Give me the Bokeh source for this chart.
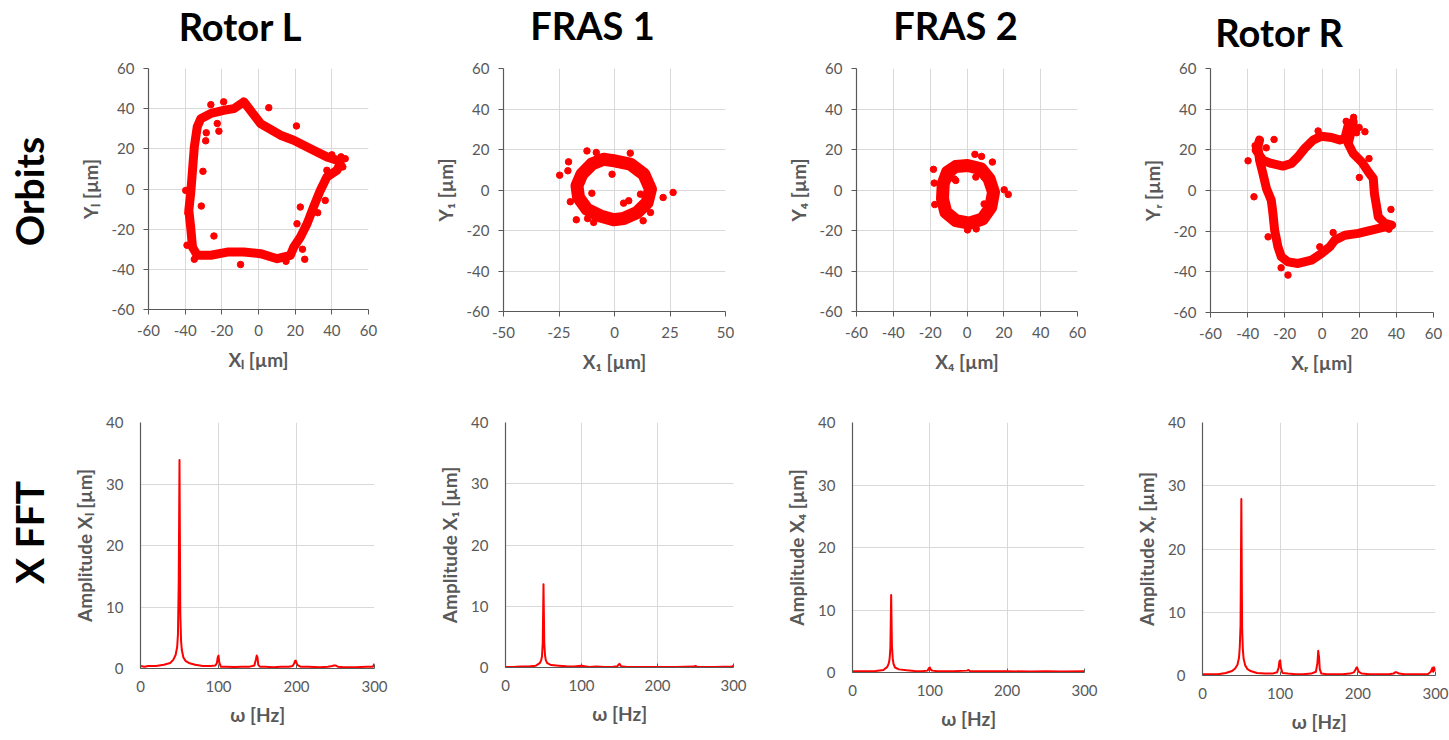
import math
from bokeh.plotting import figure
from bokeh.layouts import row, column
from bokeh.models import FixedTicker, Range1d, PrintfTickFormatter
from bokeh.core.properties import value
from bokeh.embed import file_html
from bokeh.resources import INLINE

# ---------------- DATA ----------------
panel_titles = ["Rotor L", "FRAS 1", "FRAS 2", "Rotor R"]
row_labels = ["Orbits", "X FFT"]
orbit_xlabels = ["Xₗ [µm]", "X₁ [µm]", "X₄ [µm]", "Xᵣ [µm]"]
orbit_ylabels = ["Yₗ [µm]", "Y₁ [µm]", "Y₄ [µm]", "Yᵣ [µm]"]
fft_ylabels = ["Amplitude Xₗ [µm]", "Amplitude X₁ [µm]", "Amplitude X₄ [µm]", "Amplitude Xᵣ [µm]"]
fft_xlabel = "ω [Hz]"
orbit_ticks_60 = [-60, -40, -20, 0, 20, 40, 60]
orbit_ticks_50 = [-50, -25, 0, 25, 50]
fft_xticks = [0, 100, 200, 300]
fft_yticks = [0, 10, 20, 30, 40]

# Rotor L orbit (trace points and scattered outliers)
rotor_l_x = [-8, 1.1, 12, 19.2, 30, 37.3, 42.8, 44.6, 42.8, 37.3, 33.7, 30, 26.5, 22.8, 19.2, 17.4,
             10.2, 1.1, -8, -17, -26, -33.4, -36, -37, -38, -37, -36, -35, -33.4, -31.5, -26, -19, -13.4]
rotor_l_y = [43.4, 32.6, 26.8, 24.3, 19.3, 16, 14.3, 12.6, 9.3, 6, -0.7, -9, -17.3, -24, -29, -33,
             -34.7, -32.2, -31.4, -31.4, -33, -33, -29, -19, -10.6, -2.3, 9.3, 21, 31, 35, 37.6, 39.2, 40]
rotor_l_out_x = [-26, -19, 5.6, 20.7, -22.5, -21.6, -28.5, -28.8, -30.3, -31.2, -39.7, -24.3, -9.8, 25.2,
                 22.8, 21, 36.4, 32.3, 37.3, 47.3, -39, -38.5, -35, 46, 45, 15, -30, 24, 40]
rotor_l_out_y = [42, 43.4, 40.5, 31.4, 32.6, 28.8, 28, 24, 8.8, -8.5, -0.7, -23.4, -37.6, -35,
                 -9, -17.3, -5.7, -11.8, 9.3, 15.1, -28, -12, -35, 11, 16, -36, 36, -30, 17]

# FRAS 1 orbit
fras1_x = [0, 7.1, 13.2, 16.2, 14.7, 10.2, 4.1, -0.4, -6.4, -12.4, -16.2, -16.9, -14.7, -10.2, -4.9]
fras1_y = [14.4, 12.8, 7.8, 0.4, -6.2, -11.1, -14.1, -14.7, -12.8, -9.5, -3.7, 2.1, 7.8, 12.8, 15.2]
fras1_out_x = [-24.7, -20.7, -21, -12.4, -8.2, 7.1, -19.9, -17.2, -12.1, -9.4, 12.9, 21.9, 26.4, 16.2,
               -10.2, -1.1, 4.1, 6.4, 11.7]
fras1_out_y = [7.3, 13.9, 9.5, 19.3, 18.5, 18.2, -5.8, -14.7, -14.1, -16, -15.2, -3.7, -1.2, -11.1,
               -1.6, 7.8, -6.5, -5.3, -2.1]

# FRAS 2 orbit
fras2_x = [0.3, 7.5, 12, 14.4, 12.9, 8.4, 1.2, -6.1, -11.5, -13.3, -12.9, -10.6, -6.1]
fras2_y = [12.1, 10.5, 5.5, -1.1, -8.5, -14.3, -16.4, -15.1, -11, -4.4, 3.1, 8.8, 11.6]
fras2_out_x = [-18.2, -17.8, -17.5, 4.3, 7.9, 13.8, 20.2, 22.4, 9.3, 4.8, -7, 9.3, 0.3, 5, -6.1]
fras2_out_y = [10.2, 3.4, -7.2, 17.6, 16.6, 13.8, 0.1, -2.2, 6.4, 6.4, 5.5, -6.9, -19.7, -19.2, 4.7]

# Rotor R orbit
rotor_r_x = [-35.4, -31.8, -27.3, -21, -16.5, -12.9, -9.3, -4.8, -0.3, 5.1, 9.6, 12.3, 14.1, 16.8, 15.9,
             14.1, 16.8, 21.3, 24.9, 27.6, 28.2, 29.4, 30.3, 33.9, 37.5, 33.9, 26.7, 19.5, 12.3, 6.9,
             4.2, -0.3, -5.7, -12.9, -18.3, -21.9, -23.7, -25.5, -26.4, -27.3, -29.9, -31.8, -33.6,
             -34.5, -33.6]
rotor_r_y = [19.8, 14.9, 13.3, 12, 13.3, 16.6, 20.7, 24.8, 26.7, 26.1, 24.8, 25.6, 32.1, 33.8, 29.7,
             23.1, 18.2, 14.1, 9.2, 5.9, -1.5, -8, -13, -16.2, -17, -17.9, -19.5, -21.1, -22, -24.4,
             -27.7, -31, -34.3, -35.9, -35.1, -32.6, -27.7, -19.5, -11.3, -4.8, 1, 8.4, 14.9,
             21.5, 24.8]
rotor_r_out_x = [-39.8, -36.6, -29, -25.8, -2.1, 23.1, 25.3, 20.1, 37.1, 6, -1.2, -18.3, 18.6,
                 -36, -30, 17, 13, 20, 36, -22]
rotor_r_out_y = [14.6, -3.1, -22.8, 25.1, 29.3, 28.9, 15.7, 6.4, -9.3, -20.7, -27.7, -41.6, 28.4,
                 22, 21, 36, 34, 31, -19, -38]

# FFT spectra
fft_l_f = [0, 5, 10, 20, 30, 38, 42, 45, 47, 48, 49, 50, 51, 52, 53, 55, 58, 62, 70, 80, 90, 96, 98, 99,
           100, 101, 103, 110, 120, 130, 140, 146, 148, 149, 150, 151, 153, 160, 170, 180, 190, 195, 197,
           198, 199, 201, 205, 215, 230, 240, 246, 248, 250, 253, 260, 275, 290, 298, 300]
fft_l_a = [0.4, 0.3, 0.4, 0.4, 0.6, 0.9, 1.4, 2.2, 3.5, 5.5, 14.0, 33.9, 9.0, 4.5, 3.0, 1.8, 1.2, 0.9,
           0.6, 0.4, 0.4, 0.5, 0.9, 1.8, 2.1, 1.0, 0.3, 0.3, 0.25, 0.3, 0.3, 0.5, 1.5, 2.1, 1.8, 0.6,
           0.3, 0.3, 0.2, 0.3, 0.3, 0.4, 0.8, 1.2, 1.3, 0.6, 0.3, 0.3, 0.2, 0.3, 0.4, 0.5, 0.5, 0.3,
           0.2, 0.2, 0.3, 0.3, 0.8]
fft_1_f = [0, 10, 20, 30, 40, 45, 47, 48, 49, 50, 51, 52, 53, 55, 60, 70, 80, 90, 100, 110, 120, 130,
           140, 147, 149, 150, 152, 160, 175, 200, 225, 248, 250, 252, 275, 298, 300]
fft_1_a = [0.1, 0.1, 0.15, 0.15, 0.3, 0.7, 1.2, 1.8, 4.0, 13.6, 4.0, 2.0, 1.2, 0.7, 0.4, 0.3, 0.2, 0.15,
           0.3, 0.1, 0.15, 0.1, 0.1, 0.2, 0.5, 0.6, 0.2, 0.1, 0.1, 0.1, 0.1, 0.15, 0.25, 0.1, 0.1,
           0.15, 0.3]
fft_4_f = [0, 10, 20, 30, 40, 45, 47, 48, 49, 50, 51, 52, 53, 55, 60, 70, 80, 90, 97, 99, 100, 101,
           103, 110, 130, 148, 150, 152, 170, 200, 230, 250, 270, 300]
fft_4_a = [0.2, 0.2, 0.2, 0.25, 0.4, 0.9, 1.5, 2.2, 4.0, 12.4, 4.2, 2.3, 1.4, 0.8, 0.5, 0.35, 0.25,
           0.2, 0.3, 0.7, 0.8, 0.5, 0.3, 0.2, 0.2, 0.3, 0.4, 0.2, 0.2, 0.2, 0.15, 0.2, 0.15, 0.2]
fft_r_f = [0, 10, 20, 30, 38, 42, 45, 47, 48, 49, 50, 51, 52, 53, 55, 58, 62, 70, 80, 90, 96, 98, 99,
           100, 101, 103, 110, 120, 130, 140, 146, 148, 149, 150, 151, 153, 160, 170, 180, 190, 195,
           197, 198, 199, 201, 205, 215, 230, 240, 246, 248, 250, 253, 260, 275, 290, 294, 296, 297,
           298, 299, 300]
fft_r_a = [0.2, 0.2, 0.2, 0.4, 0.7, 1.1, 1.7, 2.8, 4.5, 8.0, 27.9, 7.5, 4.0, 2.6, 1.6, 1.0, 0.7, 0.4,
           0.3, 0.3, 0.5, 1.2, 2.2, 2.4, 1.2, 0.4, 0.3, 0.2, 0.2, 0.3, 0.6, 2.0, 3.9, 3.0, 1.0, 0.3,
           0.2, 0.2, 0.2, 0.3, 0.5, 0.9, 1.2, 1.3, 0.6, 0.3, 0.2, 0.2, 0.2, 0.3, 0.5, 0.5, 0.3, 0.2,
           0.2, 0.2, 0.6, 1.2, 0.6, 1.3, 0.8, 1.2]

# ---------------- LAYOUT / STYLE ----------------
FONT = "Lato"
GRAY = "#595959"
AXIS = "#595959"
RED = "#ff0000"
GRID = "#d9d9d9"

HEADER_H = 56          # page rows: header 0-56, orbits 56-380, FFT 380-740
ROW2_TOP = 380
RH1 = ROW2_TOP - HEADER_H
RH2 = 740 - ROW2_TOP
ORB_TOP = 68           # page y of orbit frame tops
ORB_FH = [241, 243, 243, 244]
FFT_TOP = 422          # page y of FFT frame tops
FFT_FH = [246, 245, 250, 253]

BT1 = ORB_TOP - HEADER_H
BB1 = RH1 - BT1 - max(ORB_FH)
BT2 = FFT_TOP - ROW2_TOP
BB2 = RH2 - BT2 - max(FFT_FH)


def new_fig(**kw):
    p = figure(toolbar_location=None, output_backend="svg", **kw)
    p.title = None
    p.outline_line_color = None
    p.background_fill_color = "white"
    p.border_fill_color = "white"
    return p


def base_style(p):
    p.grid.grid_line_color = GRID
    p.grid.grid_line_width = 1
    for ax in (p.xaxis, p.yaxis):
        ax.axis_line_color = AXIS
        ax.axis_line_width = 1.2
        ax.major_tick_line_color = AXIS
        ax.minor_tick_line_color = None
        ax.formatter = PrintfTickFormatter(format="%d")
        ax.major_label_text_font = FONT
        ax.major_label_text_font_size = "15px"
        ax.major_label_text_color = GRAY
        ax.axis_label_text_font = FONT
        ax.axis_label_text_font_size = "19px"
        ax.axis_label_text_font_style = "bold"
        ax.axis_label_text_color = GRAY


# header with the four column titles (x in page pixels, y measured up from header bottom)
header = new_fig(width=1449, height=HEADER_H, x_range=Range1d(0, 1449), y_range=Range1d(0, HEADER_H),
                 min_border=0, x_axis_type=None, y_axis_type=None)
header.grid.visible = False
title_cx = [240, 592, 955, 1279]
title_cy = [HEADER_H - 25.5, HEADER_H - 24, HEADER_H - 24, HEADER_H - 31]
header.text(x=title_cx, y=title_cy, text=panel_titles, text_font=value(FONT),
            text_font_style="bold", text_font_size="38px", text_color="black",
            text_align="center", text_baseline="middle")


def make_label_fig(text, h, bt, bb, page_top, page_bottom, page_cy):
    # frame is aligned with the row's plot frames; y range runs in page pixels (flipped)
    p = new_fig(width=70, height=h, x_range=Range1d(0, 1), y_range=Range1d(page_bottom, page_top),
                min_border_left=0, min_border_right=0, min_border_top=bt, min_border_bottom=bb,
                x_axis_type=None, y_axis_type=None)
    p.grid.visible = False
    p.text(x=[0.41], y=[page_cy], text=[text], angle=math.pi / 2, text_font=value(FONT),
           text_font_style="bold", text_font_size="39px", text_color="black",
           text_align="center", text_baseline="middle")
    return p


def make_orbit(i, px, py, ox, oy, xr, xticks, lw, fw, bl, br):
    p = new_fig(frame_width=fw, frame_height=ORB_FH[i], min_border_left=bl, min_border_right=br,
                min_border_top=BT1, min_border_bottom=BB1, x_range=Range1d(*xr),
                y_range=Range1d(-60, 60))
    base_style(p)
    p.xaxis.ticker = FixedTicker(ticks=xticks)
    p.yaxis.ticker = FixedTicker(ticks=orbit_ticks_60)
    p.xaxis.axis_label = orbit_xlabels[i]
    p.yaxis.axis_label = orbit_ylabels[i]
    for ax in (p.xaxis, p.yaxis):
        ax.major_tick_out = 5
        ax.major_tick_in = 0
    p.xaxis.major_label_standoff = 10
    p.yaxis.major_label_standoff = 9
    p.xaxis.axis_label_standoff = 9
    p.yaxis.axis_label_standoff = 7
    xs = list(px) + [px[0]]
    ys = list(py) + [py[0]]
    p.line(xs, ys, line_width=lw, line_color=RED, line_join="round", line_cap="round")
    p.scatter(list(px) + list(ox), list(py) + list(oy), size=6.5, fill_color=RED, line_color=RED)
    return p


def make_fft(i, f, a, fw, bl, br):
    p = new_fig(frame_width=fw, frame_height=FFT_FH[i], min_border_left=bl, min_border_right=br,
                min_border_top=BT2, min_border_bottom=BB2, x_range=Range1d(0, 300),
                y_range=Range1d(0, 40))
    base_style(p)
    p.xaxis.ticker = FixedTicker(ticks=fft_xticks)
    p.yaxis.ticker = FixedTicker(ticks=fft_yticks)
    p.xaxis.axis_label = fft_xlabel
    p.yaxis.axis_label = fft_ylabels[i]
    p.xaxis.major_tick_out = 0
    p.xaxis.major_tick_in = 4
    p.yaxis.major_tick_out = 0
    p.yaxis.major_tick_in = 0
    p.xaxis.major_label_standoff = 12
    p.yaxis.major_label_standoff = 17
    p.xaxis.axis_label_standoff = 8
    p.yaxis.axis_label_standoff = 7
    p.line(f, a, line_width=2, line_color=RED, line_join="round")
    return p


o1 = make_orbit(0, rotor_l_x, rotor_l_y, rotor_l_out_x, rotor_l_out_y, (-60, 60), orbit_ticks_60,
                9, 220, 78, 62)
o2 = make_orbit(1, fras1_x, fras1_y, fras1_out_x, fras1_out_y, (-50, 50), orbit_ticks_50,
                13, 222, 70, 58)
o3 = make_orbit(2, fras2_x, fras2_y, fras2_out_x, fras2_out_y, (-60, 60), orbit_ticks_60,
                13, 221, 69, 60)
o4 = make_orbit(3, rotor_r_x, rotor_r_y, rotor_r_out_x, rotor_r_out_y, (-60, 60), orbit_ticks_60,
                9, 223, 69, 27)

f1 = make_fft(0, fft_l_f, fft_l_a, 234, 68, 58)
f2 = make_fft(1, fft_1_f, fft_1_a, 228, 73, 49)
f3 = make_fft(2, fft_4_f, fft_4_a, 232, 70, 48)
f4 = make_fft(3, fft_r_f, fft_r_a, 233, 70, 16)

lab1 = make_label_fig(row_labels[0], RH1, BT1, BB1, ORB_TOP, ORB_TOP + max(ORB_FH), 191)
lab2 = make_label_fig(row_labels[1], RH2, BT2, BB2, FFT_TOP, FFT_TOP + max(FFT_FH), 532)

layout = column(header, row(lab1, o1, o2, o3, o4), row(lab2, f1, f2, f3, f4))

open("out.html", "w").write(file_html(layout, INLINE))
